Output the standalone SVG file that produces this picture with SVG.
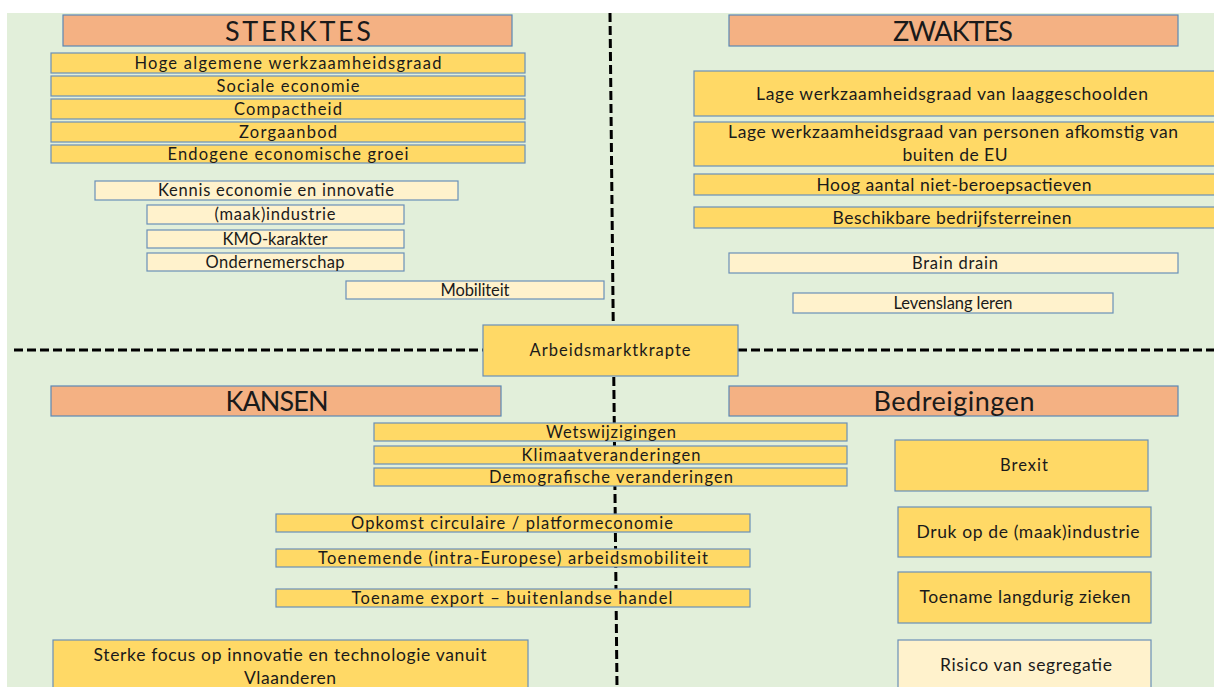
<svg xmlns="http://www.w3.org/2000/svg" width="1214" height="687" viewBox="0 0 1214 687">
<style>
text{font-family:Lato,"Open Sans","Liberation Sans",sans-serif;fill:#1a1a1a;text-anchor:middle}
.hd{fill:#f4b183;stroke:#5b87b5;stroke-width:1.2}
.y{fill:#ffd966;stroke:#6a8fb8;stroke-width:1.2}
.l{fill:#fff2cc;stroke:#6a8fb8;stroke-width:1.2}
.ht{font-size:27px}
.t{font-size:16.5px}
.tb{font-size:17.5px}
.dash{stroke:#000;stroke-width:3;stroke-dasharray:9 4;fill:none}
</style>
<rect x="0" y="0" width="1214" height="687" fill="#ffffff"/>
<rect x="7" y="13" width="1207" height="674" fill="#e2efda"/>
<g id="dividers">
<line class="dash" x1="610" y1="13" x2="617" y2="687"/>
<line class="dash" x1="14" y1="350" x2="483" y2="350"/>
<line class="dash" x1="738" y1="350" x2="1214" y2="350"/>
</g>
<g id="sterktes"><rect class="hd" x="63" y="15" width="449" height="31"/><text class="ht" x="298" y="40.5" textLength="146" lengthAdjust="spacing">STERKTES</text></g>
<g id="zwaktes"><rect class="hd" x="729" y="15" width="449" height="31"/><text class="ht" x="953" y="40.5" textLength="120" lengthAdjust="spacing">ZWAKTES</text></g>
<g id="kansen"><rect class="hd" x="51" y="386" width="450" height="30"/><text class="ht" x="277" y="410.5" textLength="103" lengthAdjust="spacing">KANSEN</text></g>
<g id="bedreigingen"><rect class="hd" x="729" y="386" width="449" height="30"/><text class="ht" x="954" y="410.5" textLength="161" lengthAdjust="spacing">Bedreigingen</text></g>

<g id="s1"><rect class="y" x="51" y="53" width="474" height="20"/><text class="t" x="288" y="68.5" textLength="307" lengthAdjust="spacing">Hoge algemene werkzaamheidsgraad</text></g>
<g id="s2"><rect class="y" x="51" y="76" width="474" height="20"/><text class="t" x="288" y="91.5" textLength="143" lengthAdjust="spacing">Sociale economie</text></g>
<g id="s3"><rect class="y" x="51" y="99" width="474" height="20"/><text class="t" x="288" y="114.5" textLength="108" lengthAdjust="spacing">Compactheid</text></g>
<g id="s4"><rect class="y" x="51" y="122" width="474" height="20"/><text class="t" x="288" y="137.5" textLength="98" lengthAdjust="spacing">Zorgaanbod</text></g>
<g id="s5"><rect class="y" x="51" y="145" width="474" height="18"/><text class="t" x="288" y="159.5" textLength="241" lengthAdjust="spacing">Endogene economische groei</text></g>
<g id="s6"><rect class="l" x="95" y="181" width="363" height="19"/><text class="t" x="276" y="196" textLength="236" lengthAdjust="spacing">Kennis economie en innovatie</text></g>
<g id="s7"><rect class="l" x="147" y="205" width="257" height="19"/><text class="t" x="275" y="220" textLength="121" lengthAdjust="spacing">(maak)industrie</text></g>
<g id="s8"><rect class="l" x="147" y="230" width="257" height="18"/><text class="t" x="275" y="244.5" textLength="105" lengthAdjust="spacing">KMO-karakter</text></g>
<g id="s9"><rect class="l" x="147" y="253" width="257" height="18"/><text class="t" x="275" y="267.5" textLength="139" lengthAdjust="spacing">Ondernemerschap</text></g>
<g id="s10"><rect class="l" x="346" y="281" width="258" height="18"/><text class="t" x="475" y="295.5" textLength="69" lengthAdjust="spacing">Mobiliteit</text></g>

<g id="w1"><rect class="y" x="694" y="71" width="525" height="45"/><text class="tb" x="952" y="99.5" textLength="392" lengthAdjust="spacing">Lage werkzaamheidsgraad  van laaggeschoolden</text></g>
<g id="w2"><rect class="y" x="694" y="122" width="525" height="44"/><text class="tb" x="953" y="138" textLength="450" lengthAdjust="spacing">Lage werkzaamheidsgraad  van personen afkomstig van</text><text class="tb" x="955" y="161" textLength="105" lengthAdjust="spacing">buiten de EU</text></g>
<g id="w3"><rect class="y" x="694" y="174" width="525" height="21"/><text class="tb" x="954" y="190.5" textLength="275" lengthAdjust="spacing">Hoog aantal niet-beroepsactieven</text></g>
<g id="w4"><rect class="y" x="694" y="207" width="525" height="21"/><text class="tb" x="952" y="223.5" textLength="239" lengthAdjust="spacing">Beschikbare bedrijfsterreinen</text></g>
<g id="w5"><rect class="l" x="729" y="253" width="449" height="20"/><text class="t" x="955" y="268.5" textLength="86" lengthAdjust="spacing">Brain drain</text></g>
<g id="w6"><rect class="l" x="793" y="293" width="320" height="20"/><text class="t" x="953" y="308.5" textLength="119" lengthAdjust="spacing">Levenslang leren</text></g>

<g id="center"><rect class="y" x="483" y="325" width="255" height="51"/><text class="t" x="610" y="356" textLength="161" lengthAdjust="spacing">Arbeidsmarktkrapte</text></g>

<g id="k1"><rect class="y" x="374" y="423" width="473" height="18"/><text class="t" x="611" y="437.5" textLength="130" lengthAdjust="spacing">Wetswijzigingen</text></g>
<g id="k2"><rect class="y" x="374" y="446" width="473" height="18"/><text class="t" x="611" y="460.5" textLength="179" lengthAdjust="spacing">Klimaatveranderingen</text></g>
<g id="k3"><rect class="y" x="374" y="468" width="473" height="18"/><text class="t" x="611" y="482.5" textLength="244" lengthAdjust="spacing">Demografische  veranderingen</text></g>
<g id="k4"><rect class="y" x="276" y="514" width="474" height="18"/><text class="t" x="512" y="528.5" textLength="322" lengthAdjust="spacing">Opkomst circulaire / platformeconomie</text></g>
<g id="k5"><rect class="y" x="276" y="549" width="474" height="18"/><text class="t" x="513" y="563.5" textLength="390" lengthAdjust="spacing">Toenemende  (intra-Europese)  arbeidsmobiliteit</text></g>
<g id="k6"><rect class="y" x="276" y="589" width="474" height="18"/><text class="t" x="512" y="603.5" textLength="321" lengthAdjust="spacing">Toename export – buitenlandse handel</text></g>
<g id="k7"><rect class="y" x="53" y="640" width="475" height="52"/><text class="tb" x="290" y="661" textLength="393" lengthAdjust="spacing">Sterke focus op innovatie en technologie vanuit</text><text class="tb" x="290" y="684" textLength="92" lengthAdjust="spacing">Vlaanderen</text></g>

<g id="b1"><rect class="y" x="895" y="440" width="253" height="51"/><text class="t" x="1024" y="471" textLength="48" lengthAdjust="spacing">Brexit</text></g>
<g id="b2"><rect class="y" x="898" y="507" width="253" height="50"/><text class="tb" x="1028" y="537.5" textLength="223" lengthAdjust="spacing">Druk op de (maak)industrie</text></g>
<g id="b3"><rect class="y" x="898" y="572" width="253" height="51"/><text class="tb" x="1025" y="603" textLength="211" lengthAdjust="spacing">Toename langdurig zieken</text></g>
<g id="b4"><rect class="l" x="898" y="640" width="253" height="52"/><text class="tb" x="1026" y="671" textLength="172" lengthAdjust="spacing">Risico van segregatie</text></g>
</svg>
